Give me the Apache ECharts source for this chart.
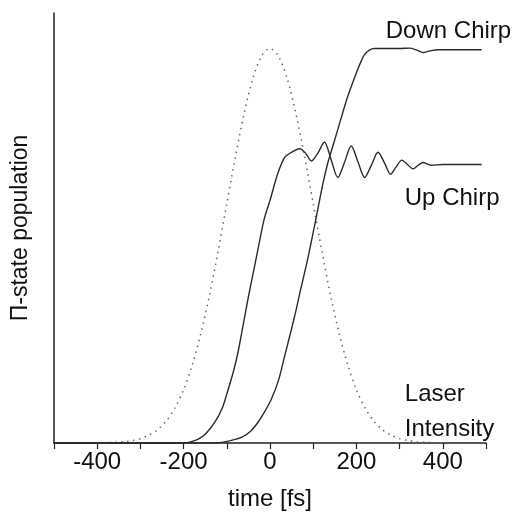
<!DOCTYPE html>
<html><head><meta charset="utf-8">
<script src="https://cdn.jsdelivr.net/npm/echarts@6/dist/echarts.min.js"></script>
<style>html,body{margin:0;padding:0;background:#fff}#c{width:522px;height:516px}</style>
</head><body><div id="c"></div>
<script>
// x axis ticks
const xTickLabels = [-400, -200, 0, 200, 400];

// Laser intensity (dotted)
const laserT = [-400,-380,-360,-340,-320,-300,-280,-260,-240,-220,-200,-180,-160,-140,-120,-100,-80,-60,-40,-20,0,20,40,60,80,100,120,140,160,180,200,220,240,260,280,300,320,340,360,380,400];
const laserV = [0.0003,0.0007,0.0015,0.003,0.006,0.011,0.02,0.034,0.056,0.089,0.135,0.198,0.278,0.375,0.487,0.607,0.726,0.835,0.923,0.98,1.0,0.98,0.923,0.835,0.726,0.607,0.487,0.375,0.278,0.198,0.135,0.089,0.056,0.034,0.02,0.011,0.006,0.003,0.0015,0.0007,0.0003];

// Up chirp
const upT = [-500,-200,-180,-166,-150,-128,-110,-97,-85,-74,-62,-51,-40,-28,-14,0,18,34,50,69,82,96,111,126,141,157,172,188,203,219,235,250,265,279,292,305,318,331,343,354,373,400,490];
const upV = [0,0,0.004,0.01,0.022,0.052,0.09,0.135,0.18,0.23,0.3,0.365,0.425,0.49,0.565,0.615,0.683,0.724,0.737,0.746,0.735,0.715,0.735,0.763,0.72,0.673,0.71,0.753,0.715,0.673,0.705,0.737,0.71,0.681,0.7,0.717,0.706,0.695,0.704,0.711,0.704,0.706,0.706];

// Down chirp
const downT = [-500,-120,-105,-85,-66,-45,-28,-12,3,20,34,50,61,69,88,103,123,134,142,157,180,203,212,219,230,242,300,323,340,354,370,388,490];
const downV = [0,0,0.003,0.008,0.014,0.03,0.052,0.08,0.111,0.16,0.221,0.29,0.34,0.38,0.47,0.55,0.66,0.711,0.74,0.795,0.879,0.947,0.97,0.985,0.996,1.0,1.0,1.001,0.996,0.99,0.994,0.997,0.997];

// annotation texts with data-space anchors (left edge)
const labelTexts = ['Down Chirp', 'Up Chirp', 'Laser', 'Intensity'];
const labelT = [268, 312, 312, 312];
const labelV = [1.044, 0.62, 0.124, 0.035];

const zip = (a, b) => a.map((t, i) => [t, b[i]]);
const FONT = 'Liberation Sans, Arial, sans-serif';

const mp = (idxs) => ({
  symbol: 'circle', symbolSize: 0, silent: true,
  data: idxs.map(i => ({
    coord: [labelT[i], labelV[i]],
    label: { show: true, formatter: labelTexts[i], position: 'inside', align: 'left', verticalAlign: 'middle',
      color: '#111', fontSize: 24, fontFamily: FONT }
  }))
});

const chart = echarts.init(document.getElementById('c'), null, {renderer: 'canvas'});
chart.setOption({
  backgroundColor: '#fff',
  animation: false,
  grid: { left: 54, right: 36, top: 13, bottom: 72 },
  xAxis: {
    type: 'value', min: -500, max: 500, interval: 100,
    name: 'time [fs]', nameLocation: 'middle', nameGap: 44,
    nameTextStyle: { color: '#111', fontSize: 24, fontFamily: FONT },
    axisLine: { onZero: false, lineStyle: { color: '#222', width: 1.5 } },
    axisTick: { show: true, length: 6, lineStyle: { color: '#222', width: 1.2 } },
    splitLine: { show: false },
    axisLabel: { color: '#111', fontSize: 24, fontFamily: FONT, margin: 7,
      formatter: v => xTickLabels.includes(v) ? String(v) : '' }
  },
  yAxis: {
    type: 'value', min: 0, max: 1.09,
    name: 'Π-state population', nameLocation: 'middle', nameGap: 22, nameRotate: 90,
    nameTextStyle: { color: '#111', fontSize: 23, fontFamily: FONT },
    axisLine: { show: true, onZero: false, lineStyle: { color: '#222', width: 1.5 } },
    axisTick: { show: false }, axisLabel: { show: false }, splitLine: { show: false }
  },
  series: [
    { type: 'line', data: zip(laserT, laserV), showSymbol: false, smooth: 0.3,
      lineStyle: { color: '#666', width: 1.5, type: [1.5, 4.5] }, z: 1,
      markPoint: mp([2, 3]) },
    { type: 'line', data: zip(upT, upV), showSymbol: false, smooth: 0.3,
      lineStyle: { color: '#2a2a2a', width: 1.4 }, markPoint: mp([1]) },
    { type: 'line', data: zip(downT, downV), showSymbol: false, smooth: 0.3,
      lineStyle: { color: '#2a2a2a', width: 1.4 }, markPoint: mp([0]) }
  ]
});
</script></body></html>
